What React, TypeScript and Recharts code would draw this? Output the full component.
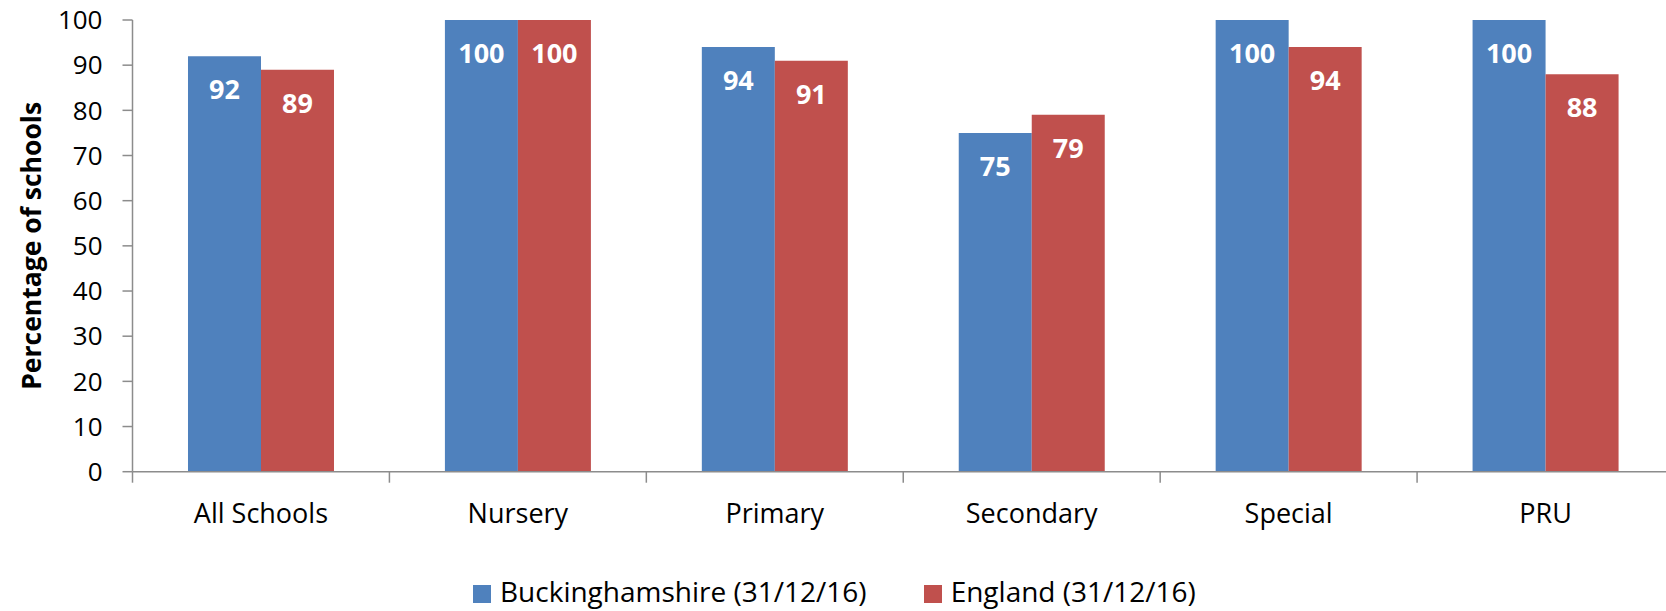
import React from 'react';
import { BarChart, Bar, XAxis, YAxis, Legend, LabelList } from 'recharts';

const categories = ['All Schools', 'Nursery', 'Primary', 'Secondary', 'Special', 'PRU'];
const buckinghamshire = [92, 100, 94, 75, 100, 100];
const england = [89, 100, 91, 79, 94, 88];
const yTicks = [0, 10, 20, 30, 40, 50, 60, 70, 80, 90, 100];
const seriesNames = ['Buckinghamshire (31/12/16)', 'England (31/12/16)'];
const seriesColors = ['#4F81BD', '#C0504D'];
const yAxisTitle = 'Percentage of schools';

const data = categories.map((c, i) => ({
  category: c,
  bucks: buckinghamshire[i],
  england: england[i],
}));

const FONT = "'Open Sans', sans-serif";
const AXIS = '#8c8c8c';

const XTick = (props: any) => {
  const { x, y, payload, index, visibleTicksCount, width } = props;
  const half = payload && typeof payload.offset === 'number' && payload.offset > 0
    ? payload.offset
    : width / visibleTicksCount / 2;
  return (
    <g>
      <line x1={x - half} x2={x - half} y1={y} y2={y + 11} stroke={AXIS} strokeWidth={1.5} />
      {index === visibleTicksCount - 1 && (
        <line x1={x + half} x2={x + half} y1={y} y2={y + 11} stroke={AXIS} strokeWidth={1.5} />
      )}
      <text x={x} y={y + 51} textAnchor="middle" fontSize={27} fill="#000" fontFamily={FONT}>
        {payload.value}
      </text>
    </g>
  );
};

const valueLabel = (p: any) => (
  <text
    x={p.x + p.width / 2}
    y={p.y + 43}
    textAnchor="middle"
    fill="#fff"
    fontWeight="bold"
    fontSize={27}
    fontFamily={FONT}
  >
    {p.value}
  </text>
);

const yLabel = (p: any) => {
  const vb = p.viewBox;
  const cx = vb.x + 41;
  const cy = vb.y + vb.height / 2;
  return (
    <text
      x={cx}
      y={cy}
      transform={`rotate(-90, ${cx}, ${cy})`}
      textAnchor="middle"
      fontWeight="bold"
      fontSize={26.5}
      fill="#000"
      fontFamily={FONT}
    >
      {yAxisTitle}
    </text>
  );
};

const LegendContent = () => (
  <div
    style={{
      height: 38,
      display: 'flex',
      alignItems: 'center',
      paddingLeft: 473,
      fontFamily: FONT,
      fontSize: 28,
      lineHeight: '38px',
      color: '#000',
      gap: 57,
    }}
  >
    {seriesNames.map((n, i) => (
      <div key={n} style={{ display: 'flex', alignItems: 'center', height: 38 }}>
        <div
          style={{
            width: 18,
            height: 18,
            background: seriesColors[i],
            marginRight: 9,
            position: 'relative',
            top: 3,
          }}
        />
        <span style={{ whiteSpace: 'nowrap' }}>{n}</span>
      </div>
    ))}
  </div>
);

export default function App() {
  return (
    <div
      style={{
        position: 'absolute',
        left: 0,
        top: 0,
        width: 1666,
        height: 611,
        overflow: 'hidden',
        background: '#fff',
      }}
    >
      <BarChart
        width={1700}
        height={611}
        data={data}
        margin={{ top: 20, right: 26, left: 0, bottom: 1 }}
        barCategoryGap="21.6%"
        barGap={0}
      >
        <XAxis
          dataKey="category"
          tick={<XTick />}
          tickLine={false}
          tickSize={0}
          tickMargin={0}
          interval={0}
          height={100.3}
          axisLine={{ stroke: AXIS, strokeWidth: 1.5 }}
        />
        <YAxis
          domain={[0, 100]}
          ticks={yTicks}
          interval={0}
          width={132.5}
          tickSize={10}
          tickMargin={20}
          tick={{ fontSize: 26, fill: '#000', fontFamily: FONT }}
          tickLine={{ stroke: AXIS, strokeWidth: 1.5 }}
          axisLine={{ stroke: AXIS, strokeWidth: 1.5 }}
          label={{ content: yLabel }}
        />
        <Legend verticalAlign="bottom" content={<LegendContent />} />
        <Bar dataKey="bucks" name={seriesNames[0]} fill={seriesColors[0]} isAnimationActive={false}>
          <LabelList dataKey="bucks" content={valueLabel} />
        </Bar>
        <Bar dataKey="england" name={seriesNames[1]} fill={seriesColors[1]} isAnimationActive={false}>
          <LabelList dataKey="england" content={valueLabel} />
        </Bar>
      </BarChart>
    </div>
  );
}
